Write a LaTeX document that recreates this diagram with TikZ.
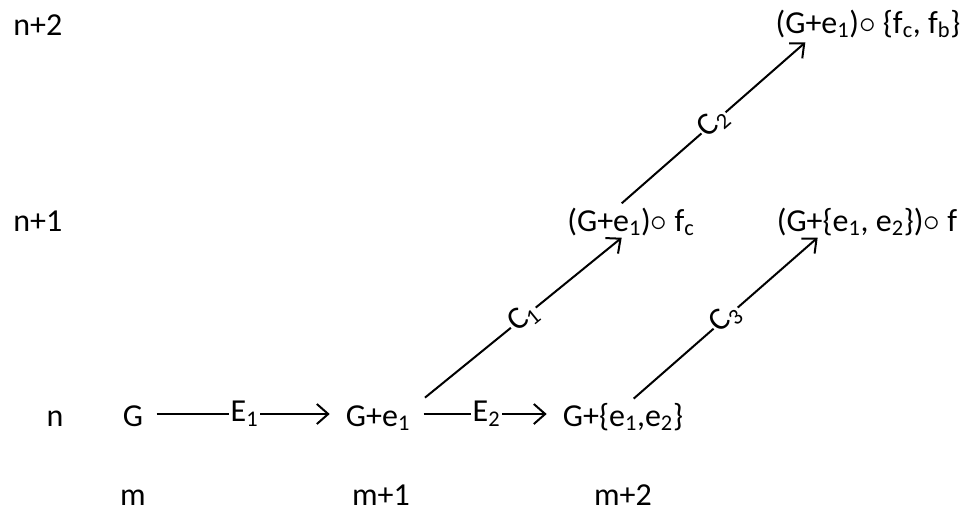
\documentclass[tikz,border=0pt]{standalone}
\usepackage{fontspec}
\setmainfont{Carlito}
\usetikzlibrary{arrows.meta}

\begin{document}
\begin{tikzpicture}[x=0.75pt,y=-0.75pt,
  every node/.style={font=\fontsize{24}{29}\selectfont,inner sep=0pt},
  term/.style={anchor=base,inner sep=8pt},
  edgelabel/.style={fill=white,inner sep=1pt},
  trans/.style={-{Straight Barb[length=8.5pt,width=15pt]},line width=1.5pt}]
  \useasboundingbox (0,0) rectangle (963,512);
  \node[anchor=base west] (rowtwo) at (13,35) {n+2};
  \node[anchor=base west] (rowone) at (13,231) {n+1};
  \node[anchor=base] (rowzero) at (55,426) {n};
  \node[anchor=base] (colzero) at (133,505) {m};
  \node[anchor=base] (colone) at (381,505) {m+1};
  \node[anchor=base] (coltwo) at (623,505) {m+2};
  \node[term] (G) at (133,426) {G};
  \node[term] (Ge1) at (378,426) {G+e\textsubscript{1}};
  \node[term] (Ge12) at (623,426) {G+\{e\textsubscript{1},e\textsubscript{2}\}};
  \node[term] (Gfc) at (631,231) {(G+e\textsubscript{1})$\circ$ f\textsubscript{c}};
  \node[term] (Gf) at (867,231) {(G+\{e\textsubscript{1}, e\textsubscript{2}\})$\circ$ f};
  \node[term] (Gfcb) at (868,33) {(G+e\textsubscript{1})$\circ$ \{f\textsubscript{c}, f\textsubscript{b}\}};
  \draw[trans,shorten <=2pt,shorten >=4pt] ([yshift=9pt]G.base east) -- ([yshift=9pt]Ge1.base west)
    node[midway,edgelabel] {E\textsubscript{1}};
  \draw[trans,shorten <=2pt,shorten >=4pt] ([yshift=9pt]Ge1.base east) -- ([yshift=9pt]Ge12.base west)
    node[midway,edgelabel] {E\textsubscript{2}};
  \draw[trans] ([xshift=3pt,yshift=-2.5pt]Ge1.north east) -- ([xshift=-7pt,yshift=7pt]Gfc.south)
    node[midway,sloped,edgelabel] {C\textsubscript{1}};
  \draw[trans] ([xshift=-7pt,yshift=-5pt]Gfc.north) -- ([xshift=-47pt,yshift=5pt]Gfcb.south)
    node[midway,sloped,edgelabel] {C\textsubscript{2}};
  \draw[trans] ([xshift=8pt,yshift=-5pt]Ge12.north) -- ([xshift=-37pt,yshift=7pt]Gf.south)
    node[midway,sloped,edgelabel] {C\textsubscript{3}};
\end{tikzpicture}
\end{document}
